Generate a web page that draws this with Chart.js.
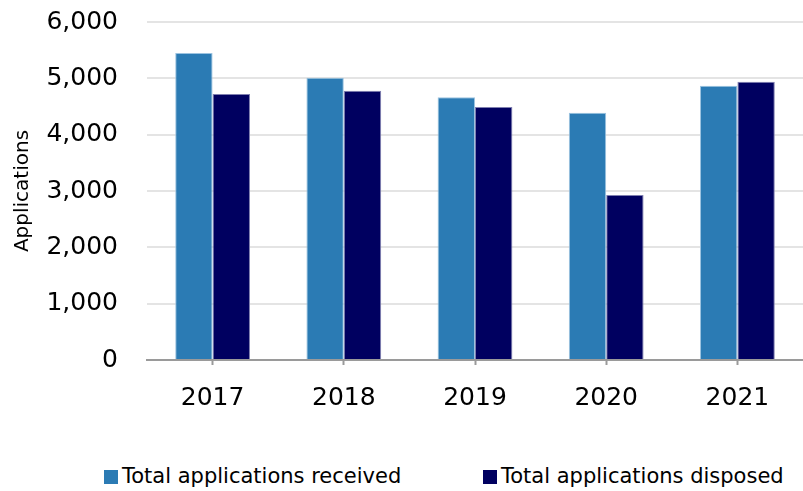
<!DOCTYPE html>
<html>
<head>
<meta charset="utf-8">
<script src="https://cdn.jsdelivr.net/npm/chart.js@4/dist/chart.umd.min.js"></script>
<style>
  html, body { margin: 0; padding: 0; background: #fff; }
  #wrap { position: relative; width: 803px; height: 491px; }
  #plot { position: absolute; left: 0; top: 0; width: 803px; height: 435px; }
  #legend {
    position: absolute; left: 0; top: 462px; width: 803px; height: 28px;
    font-family: "DejaVu Sans", sans-serif; font-size: 21px; color: #000;
  }
  .item { position: absolute; top: 0; height: 28px; line-height: 28px; white-space: nowrap; }
  .box { display: inline-block; width: 14px; height: 14px; margin-right: 4px; vertical-align: -1px; }
</style>
</head>
<body>
<div id="wrap">
  <div id="plot"><canvas id="chart"></canvas></div>
  <div id="legend"></div>
</div>
<script>
const years = ["2017", "2018", "2019", "2020", "2021"];
const received = [5450, 5010, 4665, 4390, 4870];
const disposed = [4720, 4780, 4490, 2930, 4940];
const yTicks = [0, 1000, 2000, 3000, 4000, 5000, 6000];

const font = "'DejaVu Sans', sans-serif";

const chart = new Chart(document.getElementById("chart"), {
  type: "bar",
  data: {
    labels: years,
    datasets: [
      {
        label: "Total applications received",
        data: received,
        backgroundColor: "#2b7bb4",
        borderColor: "#9cc3e0",
        borderWidth: 1,
      },
      {
        label: "Total applications disposed",
        data: disposed,
        backgroundColor: "#000060",
        borderColor: "#7f7fb0",
        borderWidth: 1,
      },
    ],
  },
  options: {
    responsive: true,
    maintainAspectRatio: false,
    animation: false,
    layout: { padding: { left: 11, right: 0, top: 22, bottom: 4 } },
    datasets: {
      bar: { categoryPercentage: 0.57, barPercentage: 1.0 },
    },
    plugins: {
      tooltip: { enabled: false },
      legend: { display: false },
    },
    scales: {
      x: {
        grid: {
          display: true,
          drawOnChartArea: false,
          offset: false,
          tickLength: 5,
          tickColor: "#9a9a9a",
          tickWidth: 2,
        },
        border: { color: "#9a9a9a", width: 2 },
        ticks: { font: { family: font, size: 25 }, color: "#000", padding: 18 },
      },
      y: {
        min: 0,
        max: 6000,
        afterFit: (s) => {
          s.width = 136;
          s.paddingTop = 0;
        },
        afterBuildTicks: (s) => { s.ticks = yTicks.map((v) => ({ value: v })); },
        grid: { color: "#e4e4e4", lineWidth: 2, drawTicks: false },
        border: { display: false },
        ticks: {
          font: { family: font, size: 25 },
          color: "#000",
          padding: 29,
          callback: (v) => v.toLocaleString("en-US"),
        },
        title: {
          display: true,
          text: "Applications",
          font: { family: font, size: 20 },
          color: "#000",
          padding: 0,
        },
      },
    },
  },
});

// legend drawn as html from the chart's datasets
const legendPos = [104, 483];
const legend = document.getElementById("legend");
chart.data.datasets.forEach((ds, i) => {
  const item = document.createElement("div");
  item.className = "item";
  item.style.left = legendPos[i] + "px";
  const box = document.createElement("span");
  box.className = "box";
  box.style.background = ds.backgroundColor;
  item.appendChild(box);
  item.appendChild(document.createTextNode(ds.label));
  legend.appendChild(item);
});
</script>
</body>
</html>
